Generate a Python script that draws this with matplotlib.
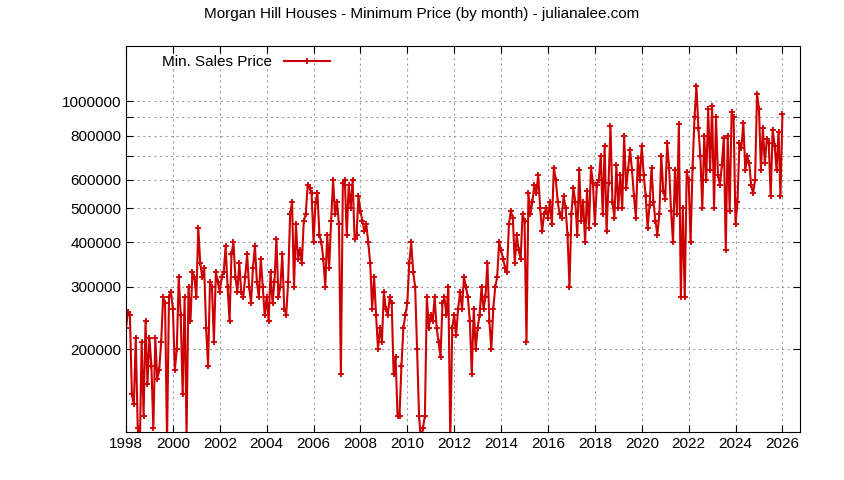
import matplotlib
matplotlib.use("Agg")
import matplotlib.pyplot as plt
import numpy as np

plt.rcParams['font.family'] = ['Liberation Sans', 'DejaVu Sans']

start_year = 1998
prices_k = [
 230,255,250,150,140,215,120,100,210,130,240,160,
 215,180,120,215,165,175,210,280,270,110,280,290,
 260,175,200,320,250,150,280,115,300,240,330,320,
 280,440,350,320,340,230,180,310,300,210,330,310,
 290,320,330,390,300,240,370,400,320,290,350,290,
 280,320,370,300,270,340,390,310,280,360,300,250,
 280,240,330,270,310,410,280,300,370,260,250,310,
 480,520,300,450,360,380,350,460,480,580,570,550,
 400,520,550,420,400,360,300,420,340,460,600,480,
 520,450,170,590,600,420,580,500,600,410,420,540,
 490,460,430,450,400,350,260,320,250,200,230,210,
 290,260,250,280,270,170,190,130,130,180,230,250,
 270,350,400,330,300,200,130,110,120,130,280,230,
 250,240,280,230,210,190,270,280,250,300,110,230,
 250,220,260,290,260,320,300,280,240,170,260,200,
 230,250,300,260,280,350,240,200,260,300,320,400,
 380,360,340,330,450,490,470,350,420,380,360,480,
 460,210,550,480,520,580,550,620,500,430,480,500,
 470,520,450,650,600,520,480,470,540,500,420,300,
 480,570,520,420,640,460,520,400,560,440,650,590,
 450,580,600,700,480,750,430,590,850,520,470,660,
 500,620,500,800,570,640,730,640,540,470,690,600,
 750,620,540,440,510,650,520,460,420,480,700,560,
 530,760,650,490,400,640,480,860,280,500,280,630,
 600,400,650,900,1100,840,700,500,800,600,950,640,
 970,500,900,620,580,660,790,380,800,490,930,900,
 450,520,760,740,870,640,700,670,580,550,600,1050,
 950,640,840,670,780,760,540,830,750,640,820,540,
 920,
]
y_ticks = [200000, 300000, 400000, 500000, 600000, 700000, 800000, 900000, 1000000]
y_labels = ['200000', '300000', '400000', '500000', '600000', '', '800000', '', '1000000']
x_ticks = list(range(1998, 2027, 2))

t = start_year + np.arange(len(prices_k)) / 12.0
v = np.array(prices_k) * 1000

fig = plt.figure(figsize=(8.44, 4.8), dpi=100)
ax = fig.add_axes([126/844, 1-432/480, (800-126)/844, (432-46)/480])
ax.plot(t, v, color='#cc0000', lw=1.5, marker='+', ms=5, mew=1.3, label='Min. Sales Price')
ax.set_yscale('log')
ax.set_ylim(117000, 1430000)
ax.set_xlim(1998, 2026.75)
ax.set_yticks(y_ticks)
ax.set_yticklabels(y_labels)
ax.yaxis.set_minor_locator(matplotlib.ticker.NullLocator())
ax.set_xticks(x_ticks)
ax.tick_params(direction='in', which='both', top=True, right=True, labelsize=11, length=5)
ax.grid(True, color='#a0a0a0', ls=(0, (2, 3)), lw=0.8)
fig.suptitle('Morgan Hill Houses - Minimum Price (by month) - julianalee.com', y=0.985, fontsize=11)
leg = ax.legend(loc='upper left', frameon=False, markerfirst=False, fontsize=11,
                handlelength=3, borderaxespad=0.2, bbox_to_anchor=(0.04, 1.0))
fig.savefig('out.png', dpi=100)
